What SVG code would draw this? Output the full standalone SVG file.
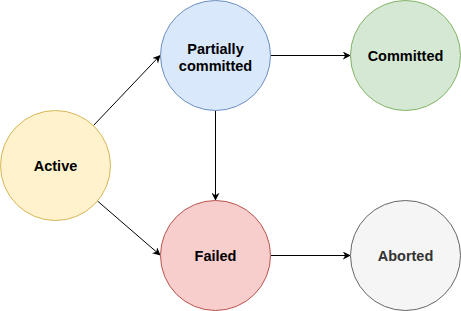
<svg xmlns="http://www.w3.org/2000/svg" width="461" height="311" viewBox="0 0 461 311">
<defs>
<style>
.lbl{font-family:"Liberation Sans",Arial,Helvetica,sans-serif;font-size:14.5px;font-weight:bold;text-anchor:middle;fill:#000}
.edge{fill:none;stroke:#000;stroke-width:1}
</style>
<marker id="arr" viewBox="0 0 10 10" refX="9" refY="5" markerWidth="8" markerHeight="8" markerUnits="userSpaceOnUse" orient="auto">
<path d="M0,0 L10,5 L0,10 L3,5 Z" fill="#000"/>
</marker>
</defs>
<rect width="461" height="311" fill="#fff"/>
<g id="edges">
<line class="edge" x1="93.5" y1="125.5" x2="160" y2="55.5" marker-end="url(#arr)"/>
<line class="edge" x1="97.5" y1="201" x2="160" y2="255" marker-end="url(#arr)"/>
<line class="edge" x1="270.5" y1="55.5" x2="350" y2="55.5" marker-end="url(#arr)"/>
<line class="edge" x1="215.5" y1="110.5" x2="215.5" y2="200" marker-end="url(#arr)"/>
<line class="edge" x1="270.5" y1="255.5" x2="350" y2="255.5" marker-end="url(#arr)"/>
</g>
<g id="active">
<circle cx="55.5" cy="165.5" r="55" fill="#fff2cc" stroke="#d6b656"/>
<text class="lbl" x="55.5" y="171">Active</text>
</g>
<g id="partially">
<circle cx="215.5" cy="55.5" r="55" fill="#dae8fc" stroke="#6c8ebf"/>
<text class="lbl" x="215.5" y="53.5">Partially</text>
<text class="lbl" x="215.5" y="70.5">committed</text>
</g>
<g id="committed">
<circle cx="405.5" cy="55.5" r="55" fill="#d5e8d4" stroke="#82b366"/>
<text class="lbl" x="405.5" y="61">Committed</text>
</g>
<g id="failed">
<circle cx="215.5" cy="255.5" r="55" fill="#f8cecc" stroke="#b85450"/>
<text class="lbl" x="215.5" y="261">Failed</text>
</g>
<g id="aborted">
<circle cx="405.5" cy="255.5" r="55" fill="#f5f5f5" stroke="#666666"/>
<text class="lbl" x="405.5" y="261" style="fill:#333333">Aborted</text>
</g>
</svg>
